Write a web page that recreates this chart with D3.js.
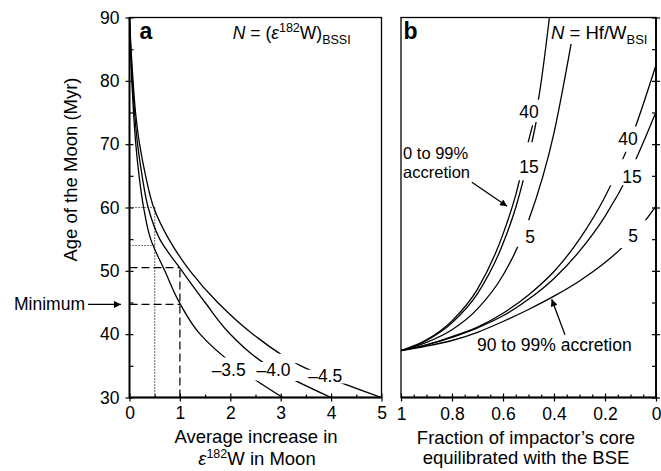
<!DOCTYPE html>
<html>
<head>
<meta charset="utf-8">
<script src="https://cdn.jsdelivr.net/npm/d3@7"></script>
<style>
  body { margin: 0; background: #fff; }
  text { font-family: "Liberation Sans", Arial, Helvetica, sans-serif; font-size: 17.5px; fill: #000; }
</style>
</head>
<body>
<svg id="chart" width="661" height="471"></svg>
<script>
// ---- data ----
// panel a: age of the Moon (Myr) vs average increase in e182W, one list per N
const ageGrid = [90, 85, 80, 75, 70, 65, 60, 55, 50, 45, 40, 35, 30];
const incrN35 = [0, 0.02, 0.045, 0.08, 0.125, 0.19, 0.28, 0.42, 0.7, 0.99, 1.4, 2.1, 3.04];
const incrN40 = [0, 0.025, 0.056, 0.1, 0.16, 0.25, 0.37, 0.6, 1.04, 1.5, 2.0, 2.75, 4.0];
const incrN45 = [0, 0.03, 0.07, 0.12, 0.2, 0.32, 0.48, 0.78, 1.2, 1.75, 2.45, 3.4, 5.0];
const curveLabelsA = ["\u20133.5", "\u20134.0", "\u20134.5"];

// panel b: fraction of impactor's core equilibrated vs age, 90 to 99% accretion
const fracGrid = [1, 0.9, 0.8, 0.7, 0.6, 0.5, 0.4, 0.3, 0.2, 0.1, 0];
const lateAge40 = [37.4, 38.3, 39.6, 41.1, 43.3, 46.2, 49.9, 55.0, 61.7, 70.6, 82.5];
const lateAge15 = [37.4, 38.3, 39.5, 41.0, 42.9, 45.5, 48.8, 53.1, 58.6, 65.8, 75.1];
const lateAge5 = [37.4, 38.1, 39.0, 40.3, 42.0, 43.9, 46.0, 48.4, 51.3, 55.0, 60.2];

// panel b: 0 to 99% accretion (curves leave through the top, so own fractions)
const earlyFrac40 = [1, 0.9, 0.8, 0.7, 0.6, 0.55, 0.5, 0.46, 0.418];
const earlyAge40 = [37.4, 39.1, 42.1, 47.1, 55.8, 62.0, 70.5, 77.3, 90];
const earlyFrac15 = [1, 0.9, 0.8, 0.7, 0.6, 0.55, 0.5, 0.47];
const earlyAge15 = [37.4, 39.0, 41.8, 46.4, 54.3, 60.0, 67.8, 73.5];
const earlyFrac5 = [1, 0.9, 0.8, 0.7, 0.6, 0.5, 0.4, 0.33];
const earlyAge5 = [37.4, 38.7, 40.7, 44.0, 49.3, 57.9, 71.8, 86.5];

const ageTicks = [30, 40, 50, 60, 70, 80, 90];
const ageMinorTicks = [35, 45, 55, 65, 75, 85];
const incrTicks = [0, 1, 2, 3, 4, 5];
const incrMinorTicks = [0.5, 1.5, 2.5, 3.5, 4.5];
const fracTicks = [1, 0.8, 0.6, 0.4, 0.2, 0];
const fracTickLabels = ["1", "0.8", "0.6", "0.4", "0.2", "0"];
const fracMinorTicks = [0.95, 0.9, 0.85, 0.75, 0.7, 0.65, 0.55, 0.5, 0.45, 0.35, 0.3, 0.25, 0.15, 0.1, 0.05];

// ---- layout ----
const svg = d3.select("#chart");
const defs = svg.append("defs");

const y = d3.scaleLinear().domain([30, 90]).range([397.5, 17.5]);
const xa = d3.scaleLinear().domain([0, 5]).range([129.5, 381.5]);
const xb = d3.scaleLinear().domain([1, 0]).range([401, 656]);

defs.append("marker")
    .attr("id", "arrow")
    .attr("viewBox", "0 0 10 10")
    .attr("refX", 10).attr("refY", 5)
    .attr("markerWidth", 9).attr("markerHeight", 7)
    .attr("markerUnits", "userSpaceOnUse")
    .attr("orient", "auto")
    .append("path").attr("d", "M0,0L10,5L0,10z").attr("fill", "#000");

// visible pieces of each curve (age ranges), the rest is left blank for labels
function addClip(id, range, windows) {
    const cp = defs.append("clipPath").attr("id", id);
    windows.forEach(([lo, hi]) => {
        cp.append("rect")
            .attr("x", range[0] - 2).attr("width", range[1] - range[0] + 4)
            .attr("y", y(hi)).attr("height", y(lo) - y(hi));
    });
}

function frame(x) {
    const [x0, x1] = x.range();
    svg.append("rect")
        .attr("x", x0).attr("y", y(90))
        .attr("width", x1 - x0).attr("height", y(30) - y(90))
        .attr("fill", "none").attr("stroke", "#000").attr("stroke-width", 1.3);
}

function cleanAxis(g) {
    g.select(".domain").remove();
    g.attr("font-size", null).attr("font-family", null);
    g.selectAll(".tick line").attr("stroke-width", 1.2);
}

// ================= panel a =================
frame(xa);
// axis lines a little heavier
svg.append("line").attr("x1", xa(0)).attr("x2", xa(0)).attr("y1", y(90)).attr("y2", y(30)).attr("stroke", "#000").attr("stroke-width", 1.8);
svg.append("line").attr("x1", xa(0)).attr("x2", xa(5)).attr("y1", y(30)).attr("y2", y(30)).attr("stroke", "#000").attr("stroke-width", 1.8);

svg.append("g")
    .attr("transform", `translate(${xa(0)},0)`)
    .call(d3.axisLeft(y).tickValues(ageTicks).tickSize(4).tickPadding(7))
    .call(cleanAxis)
    .call(g => g.selectAll(".tick line").attr("x2", 4).attr("x1", -4))
    .call(g => g.selectAll(".tick text").attr("x", -10));
svg.append("g")
    .attr("transform", `translate(${xa(0)},0)`)
    .call(d3.axisRight(y).tickValues(ageMinorTicks).tickSize(4).tickFormat(""))
    .call(cleanAxis);

svg.append("g")
    .attr("transform", `translate(0,${y(30)})`)
    .call(d3.axisBottom(xa).tickValues(incrTicks).tickSize(4).tickFormat(d3.format("d")))
    .call(cleanAxis)
    .call(g => g.selectAll(".tick line").attr("y1", -4).attr("y2", 4))
    .call(g => g.selectAll(".tick text").attr("y", 21.5).attr("dy", null));
svg.append("g")
    .attr("transform", `translate(0,${y(30)})`)
    .call(d3.axisTop(xa).tickValues(incrMinorTicks).tickSize(3).tickFormat(""))
    .call(cleanAxis);

// guide lines
const guides = svg.append("g").attr("stroke", "#000").attr("stroke-width", 1.2).attr("fill", "none");
guides.append("path").attr("stroke-dasharray", "8,4")
    .attr("d", `M${xa(0)},${y(50.5)}H${xa(1)}M${xa(1)},${y(30)}V${y(50.5)}M${xa(0)},${y(44.7)}H${xa(1)}`);
guides.append("path").attr("stroke-dasharray", "1,2")
    .attr("d", `M${xa(0)},${y(60)}H${xa(0.5)}M${xa(0)},${y(54)}H${xa(0.5)}M${xa(0.5)},${y(30)}V${y(60)}`);

const lineA = d3.line().x(d => xa(d[0])).y(d => y(d[1])).curve(d3.curveMonotoneY);
const seriesA = [
    { id: "cA35", vals: incrN35, win: [[30, 32.7], [36.3, 90]] },
    { id: "cA40", vals: incrN40, win: [[30, 32.6], [35.6, 90]] },
    { id: "cA45", vals: incrN45, win: [[30, 32.2], [34.4, 35.4], [36.9, 90]] }
];
seriesA.forEach(s => {
    addClip(s.id, xa.range(), s.win);
    svg.append("path")
        .attr("clip-path", `url(#${s.id})`)
        .attr("d", lineA(s.vals.map((v, i) => [v, ageGrid[i]])))
        .attr("fill", "none").attr("stroke", "#000").attr("stroke-width", 1.3);
});

const labelPosA = [[1.63, 33.4], [2.52, 33.4], [3.545, 32.5]];
curveLabelsA.forEach((t, i) => {
    svg.append("text").attr("x", xa(labelPosA[i][0])).attr("y", y(labelPosA[i][1])).text(t);
});

svg.append("text").attr("x", xa(0.2)).attr("y", 38.5)
    .style("font-size", "23px").style("font-weight", "bold").text("a");
svg.append("text").attr("x", xa(2.05)).attr("y", 38.5).call(t => {
    t.append("tspan").style("font-style", "italic").text("N");
    t.append("tspan").text(" = (");
    t.append("tspan").style("font-style", "italic").text("\u03b5");
    t.append("tspan").attr("dy", -7).style("font-size", "12.5px").text("182");
    t.append("tspan").attr("dy", 7).text("W)");
    t.append("tspan").attr("dy", 5).style("font-size", "12.5px").text("BSSI");
});

// minimum marker
svg.append("line")
    .attr("x1", 88).attr("x2", 121).attr("y1", y(44.7)).attr("y2", y(44.7))
    .attr("stroke", "#000").attr("stroke-width", 1.3).attr("marker-end", "url(#arrow)");
svg.append("text").attr("x", 85).attr("y", y(44.7) + 6).attr("text-anchor", "end").text("Minimum");

// axis titles
svg.append("text")
    .attr("transform", `translate(77,${(y(30) + y(90)) / 2 - 38}) rotate(-90)`)
    .attr("text-anchor", "middle").style("font-size", "18.5px")
    .text("Age of the Moon (Myr)");
svg.append("text").attr("x", 256).attr("y", 443).attr("text-anchor", "middle")
    .style("font-size", "18.5px").text("Average increase in");
svg.append("text").attr("x", 257).attr("y", 465).attr("text-anchor", "middle")
    .style("font-size", "18.5px").call(t => {
        t.append("tspan").style("font-style", "italic").text("\u03b5");
        t.append("tspan").attr("dy", -7).style("font-size", "12.5px").text("182");
        t.append("tspan").attr("dy", 7).text("W in Moon");
    });

// ================= panel b =================
frame(xb);
svg.append("line").attr("x1", xb(1)).attr("x2", xb(0)).attr("y1", y(30)).attr("y2", y(30)).attr("stroke", "#000").attr("stroke-width", 1.8);
svg.append("line").attr("x1", xb(0)).attr("x2", xb(0)).attr("y1", y(90)).attr("y2", y(30)).attr("stroke", "#000").attr("stroke-width", 1.8);

svg.append("g")
    .attr("transform", `translate(0,${y(30)})`)
    .call(d3.axisBottom(xb).tickValues(fracTicks).tickSize(4).tickFormat((d, i) => fracTickLabels[i]))
    .call(cleanAxis)
    .call(g => g.selectAll(".tick line").attr("y1", -4).attr("y2", 4))
    .call(g => g.selectAll(".tick text").attr("y", 22.5).attr("dy", null));
svg.append("g")
    .attr("transform", `translate(0,${y(30)})`)
    .call(d3.axisTop(xb).tickValues(fracMinorTicks).tickSize(3).tickFormat(""))
    .call(cleanAxis);
svg.append("g")
    .attr("transform", `translate(${xb(0)},0)`)
    .call(d3.axisRight(y).tickValues(ageTicks).tickSize(4).tickFormat(""))
    .call(cleanAxis)
    .call(g => g.selectAll(".tick line").attr("x1", -4).attr("x2", 4));
svg.append("g")
    .attr("transform", `translate(${xb(0)},0)`)
    .call(d3.axisLeft(y).tickValues(ageMinorTicks).tickSize(4).tickFormat(""))
    .call(cleanAxis);

const lineB = d3.line().x(d => xb(d[0])).y(d => y(d[1])).curve(d3.curveMonotoneX);
const seriesB = [
    { id: "cBe40", f: earlyFrac40, a: earlyAge40, win: [[30, 64.3], [70.3, 73.0], [77.0, 90]] },
    { id: "cBe15", f: earlyFrac15, a: earlyAge15, win: [[30, 64.3], [70.3, 73.5]] },
    { id: "cBe5", f: earlyFrac5, a: earlyAge5, win: [[30, 53.8], [58.0, 85.8]] },
    { id: "cBl40", f: fracGrid, a: lateAge40, win: [[30, 63.5], [67.6, 68.8], [72.8, 90]] },
    { id: "cBl15", f: fracGrid, a: lateAge15, win: [[30, 63.5], [67.6, 90]] },
    { id: "cBl5", f: fracGrid, a: lateAge5, win: [[30, 53.6], [58.0, 90]] }
];
seriesB.forEach(s => {
    addClip(s.id, xb.range(), s.win);
    svg.append("path")
        .attr("clip-path", `url(#${s.id})`)
        .attr("d", lineB(s.f.map((f, i) => [f, s.a[i]])))
        .attr("fill", "none").attr("stroke", "#000").attr("stroke-width", 1.3);
});

const labelsB = [
    ["40", 0.498, 74.1], ["15", 0.498, 65.4], ["5", 0.494, 54.4],
    ["40", 0.110, 69.9], ["15", 0.094, 63.9], ["5", 0.090, 54.6]
];
labelsB.forEach(([t, f, a]) => {
    svg.append("text").attr("x", xb(f)).attr("y", y(a)).attr("text-anchor", "middle").text(t);
});

svg.append("text").attr("x", xb(0.99)).attr("y", 38.5)
    .style("font-size", "23px").style("font-weight", "bold").text("b");
svg.append("text").attr("x", xb(0.412)).attr("y", 38.5).style("font-size", "18.5px").call(t => {
    t.append("tspan").style("font-style", "italic").text("N");
    t.append("tspan").text(" = Hf/W");
    t.append("tspan").attr("dy", 5).style("font-size", "13px").text("BSI");
});

svg.append("text").attr("x", xb(0.992)).attr("y", 158.5).style("font-size", "16.5px").text("0 to 99%");
svg.append("text").attr("x", xb(0.992)).attr("y", 177.5).style("font-size", "16.5px").text("accretion");
svg.append("line")
    .attr("x1", xb(0.722)).attr("y1", y(64.0)).attr("x2", xb(0.584)).attr("y2", y(60.2))
    .attr("stroke", "#000").attr("stroke-width", 1.3).attr("marker-end", "url(#arrow)");

svg.append("text").attr("x", xb(0.702)).attr("y", 351).text("90 to 99% accretion");
svg.append("line")
    .attr("x1", xb(0.357)).attr("y1", y(39.9)).attr("x2", xb(0.409)).attr("y2", y(45.5))
    .attr("stroke", "#000").attr("stroke-width", 1.3).attr("marker-end", "url(#arrow)");

svg.append("text").attr("x", 526).attr("y", 444).attr("text-anchor", "middle")
    .style("font-size", "18.5px").text("Fraction of impactor\u2019s core");
svg.append("text").attr("x", 526).attr("y", 464).attr("text-anchor", "middle")
    .style("font-size", "18.5px").text("equilibrated with the BSE");
</script>
</body>
</html>
